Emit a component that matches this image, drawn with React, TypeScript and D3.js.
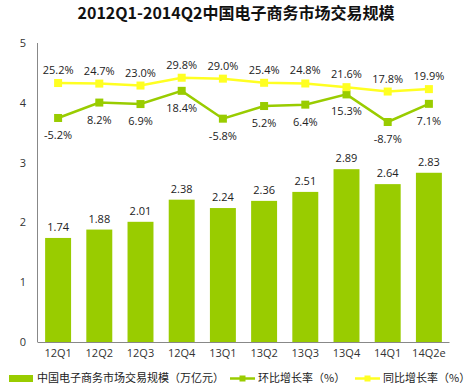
import React, { useEffect, useRef } from 'react';
import * as d3 from 'd3';

const title = '2012Q1-2014Q2中国电子商务市场交易规模';
const quarters = ['12Q1', '12Q2', '12Q3', '12Q4', '13Q1', '13Q2', '13Q3', '13Q4', '14Q1', '14Q2e'];
const scale = [1.74, 1.88, 2.01, 2.38, 2.24, 2.36, 2.51, 2.89, 2.64, 2.83];
const qoq = [-5.2, 8.2, 6.9, 18.4, -5.8, 5.2, 6.4, 15.3, -8.7, 7.1];
const yoy = [25.2, 24.7, 23.0, 29.8, 29.0, 25.4, 24.8, 21.6, 17.8, 19.9];
const yTicks = [0, 1, 2, 3, 4, 5];
const legendNames = ['中国电子商务市场交易规模（万亿元）', '环比增长率（%）', '同比增长率（%）'];

const App = () => {
  const svgRef = useRef<SVGSVGElement>(null);

  useEffect(() => {
    const w = 469;
    const h = 391;
    const svg = d3.select(svgRef.current).attr('width', w).attr('height', h);
    svg.selectAll('*').remove();
    const font = '"Open Sans", "Noto Sans CJK SC", sans-serif';
    const barColor = '#99cc00';
    const qoqColor = '#99cc00';
    const yoyColor = '#ffff22';

    svg
      .append('text')
      .attr('x', 236)
      .attr('y', 19)
      .attr('text-anchor', 'middle')
      .style('font-family', '"Noto Sans CJK SC", sans-serif')
      .style('font-weight', 'bold')
      .style('font-size', '16px')
      .attr('fill', '#111')
      .text(title);

    const x = d3.scaleBand().domain(quarters).range([37.5, 449.5]).paddingInner(0.37).paddingOuter(0.185);
    const y = d3.scaleLinear().domain([0, 5]).range([342, 43]);
    const yPct = d3.scaleLinear().domain([-200, 60]).range([342, 43]);

    // axes
    const gy = svg.append('g');
    gy.append('line').attr('x1', 37.5).attr('x2', 37.5).attr('y1', 43).attr('y2', 342).attr('stroke', '#888');
    gy.selectAll('text')
      .data(yTicks)
      .join('text')
      .attr('x', 23)
      .attr('y', (d) => y(d) + 4)
      .attr('text-anchor', 'middle')
      .style('font-family', font)
      .style('font-size', '11px')
      .attr('fill', '#333')
      .text((d) => d);

    svg.append('line').attr('x1', 37.5).attr('x2', 449.5).attr('y1', 342.5).attr('y2', 342.5).attr('stroke', '#888');
    svg
      .append('g')
      .selectAll('text')
      .data(quarters)
      .join('text')
      .attr('x', (d) => x(d)! + x.bandwidth() / 2)
      .attr('y', 357)
      .attr('text-anchor', 'middle')
      .style('font-family', font)
      .style('font-size', '11px')
      .attr('fill', '#333')
      .text((d) => d);

    // bars
    svg
      .append('g')
      .selectAll('rect')
      .data(scale)
      .join('rect')
      .attr('x', (d, i) => x(quarters[i])!)
      .attr('y', (d) => y(d))
      .attr('width', x.bandwidth())
      .attr('height', (d) => y(0) - y(d))
      .attr('fill', barColor);
    svg
      .append('g')
      .selectAll('text')
      .data(scale)
      .join('text')
      .attr('x', (d, i) => x(quarters[i])! + x.bandwidth() / 2)
      .attr('y', (d) => y(d) - 7)
      .attr('text-anchor', 'middle')
      .style('font-family', font)
      .style('font-size', '11px')
      .attr('fill', '#222')
      .text((d) => d.toFixed(2));

    const cx = (i: number) => x(quarters[i])! + x.bandwidth() / 2;
    const line = d3
      .line<number>()
      .x((d, i) => cx(i))
      .y((d) => yPct(d));

    const drawSeries = (data: number[], color: string, above: boolean) => {
      svg.append('path').attr('d', line(data)).attr('fill', 'none').attr('stroke', color).attr('stroke-width', 2.5);
      svg
        .append('g')
        .selectAll('rect')
        .data(data)
        .join('rect')
        .attr('x', (d, i) => cx(i) - 4)
        .attr('y', (d) => yPct(d) - 4)
        .attr('width', 8)
        .attr('height', 8)
        .attr('fill', color);
      svg
        .append('g')
        .selectAll('text')
        .data(data)
        .join('text')
        .attr('x', (d, i) => cx(i))
        .attr('y', (d) => yPct(d) + (above ? -9 : 21))
        .attr('text-anchor', 'middle')
        .style('font-family', font)
        .style('font-size', '11px')
        .attr('fill', '#222')
        .text((d) => d.toFixed(1) + '%');
    };
    drawSeries(qoq, qoqColor, false);
    drawSeries(yoy, yoyColor, true);

    // legend
    const lg = svg.append('g').style('font-family', '"Noto Sans CJK SC", sans-serif').style('font-size', '11px');
    lg.append('rect').attr('x', 9).attr('y', 375).attr('width', 24).attr('height', 7).attr('fill', barColor);
    lg.append('text').attr('x', 37).attr('y', 382).attr('fill', '#222').text(legendNames[0]);
    [
      [230, qoqColor, legendNames[1]],
      [355, yoyColor, legendNames[2]],
    ].forEach(([lx, c, t]) => {
      const x0 = lx as number;
      lg.append('line').attr('x1', x0).attr('x2', x0 + 25).attr('y1', 378.5).attr('y2', 378.5).attr('stroke', c as string).attr('stroke-width', 2.5);
      lg.append('rect').attr('x', x0 + 9.5).attr('y', 375.5).attr('width', 6).attr('height', 6).attr('fill', c as string);
      lg.append('text').attr('x', x0 + 28).attr('y', 382).attr('fill', '#222').text(t as string);
    });
  }, []);

  return (
    <div style={{ position: 'absolute', left: 0, top: 0 }}>
      <svg ref={svgRef} style={{ display: 'block' }}></svg>
    </div>
  );
};

export default App;
